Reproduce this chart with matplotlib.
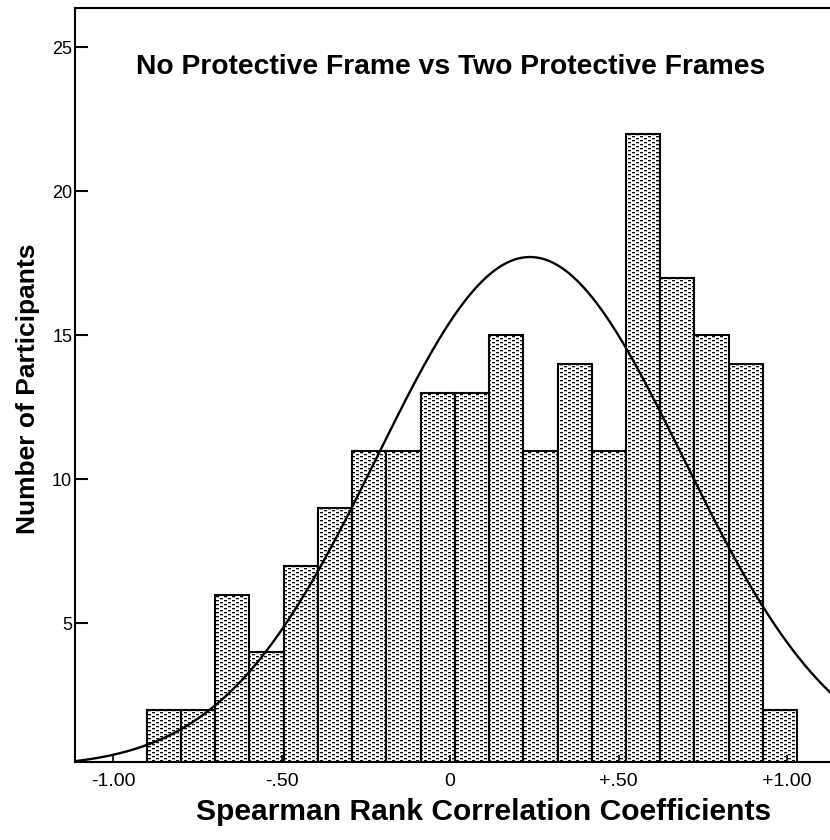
import numpy as np
import matplotlib
matplotlib.use('Agg')
import matplotlib.pyplot as plt

plt.rcParams['font.family'] = ['Liberation Sans', 'DejaVu Sans']

# counts per bin
counts = [2, 2, 6, 4, 7, 9, 11, 11, 13, 13, 15, 11, 14, 11, 22, 17, 15, 14, 2]
bin_lo = -0.90
bin_hi = 1.03
# fitted normal curve
curve_mean = 0.237
curve_sd = 0.455

xtick_vals = [-1.0, -0.5, 0.0, 0.5, 1.0]
xtick_labels = ['-1.00', '-.50', '0', '+.50', '+1.00']
ytick_vals = [5, 10, 15, 20, 25]

title = 'No Protective Frame vs Two Protective Frames'
xlabel = 'Spearman Rank Correlation Coefficients'
ylabel = 'Number of Participants'

edges = np.linspace(bin_lo, bin_hi, len(counts) + 1)
width = edges[1] - edges[0]
n_total = sum(counts)

W, H = 830, 840
fig = plt.figure(figsize=(W / 100, H / 100), dpi=100)
ax = fig.add_axes([75 / W, (H - 762) / H, 770 / W, (762 - 8) / H])
ax.set_facecolor('none')

xmin, xmax = -1.113, 1.172
ax.set_xlim(xmin, xmax)
ax.set_ylim(0.19, 26.37)

bars = ax.bar(edges[:-1], counts, width=width, align='edge', facecolor='none',
              edgecolor='black', linewidth=1.5, zorder=2)

# SPSS-like dash fill: pixel tile, clipped to every bar and to the axes
tile = np.ones((4, 8))
tile[0, 0:3] = 0.0
tile[1, 0:3] = 0.7
tile[2, 4:7] = 0.0
tile[3, 4:7] = 0.7
pat = np.tile(tile, (H // 4 + 1, W // 8 + 1))[:H, :W]
for b in bars:
    im = fig.figimage(pat, cmap='gray', vmin=0, vmax=1, zorder=-1)
    im.set_clip_path(b.get_path(), b.get_transform())
    im.set_clip_box(ax.bbox)

xs = np.linspace(xmin, xmax, 500)
ys = n_total * width / (curve_sd * np.sqrt(2 * np.pi)) * np.exp(-0.5 * ((xs - curve_mean) / curve_sd) ** 2)
ax.plot(xs, ys, color='black', lw=1.7, zorder=3)

for s in ['left', 'top', 'bottom']:
    ax.spines[s].set_linewidth(1.5)
ax.spines['right'].set_visible(False)

ax.set_xticks(xtick_vals)
ax.set_xticklabels(xtick_labels)
ax.set_yticks(ytick_vals)
ax.tick_params(axis='x', direction='in', length=5, width=1.2, labelsize=14, pad=8)
ax.tick_params(axis='y', direction='in', length=9, width=1.5, labelsize=13, pad=2)

fig.text(451 / W, 1 - 67 / H, title, ha='center', va='center', fontsize=20.3, weight='bold')
fig.text(484 / W, 1 - 812 / H, xlabel, ha='center', va='center', fontsize=21.6, weight='bold')
fig.text(28 / W, 1 - 389 / H, ylabel, ha='center', va='center', rotation=90, fontsize=19, weight='bold')

plt.savefig('out.png', dpi=100)
